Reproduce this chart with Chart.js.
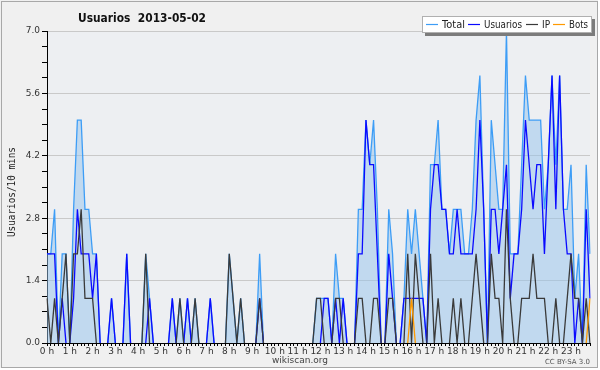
<!DOCTYPE html>
<html>
<head>
<meta charset="utf-8">
<script src="https://cdn.jsdelivr.net/npm/chart.js@4.4.0/dist/chart.umd.min.js"></script>
<style>
    html, body { margin: 0; padding: 0; background: #fff; }
    #wrap { width: 600px; height: 370px; }
</style>
</head>
<body>
<div id="wrap"><canvas id="usersChart" width="600" height="370"></canvas></div>
<script>
/**
 * Usuarios 2013-05-02 - users per 10 minutes
 */

const hourLabels = ['0 h', '1 h', '2 h', '3 h', '4 h', '5 h', '6 h', '7 h', '8 h', '9 h', '10 h', '11 h',
    '12 h', '13 h', '14 h', '15 h', '16 h', '17 h', '18 h', '19 h', '20 h', '21 h', '22 h', '23 h'];
const minuteSlots = ['00', '10', '20', '30', '40', '50'];
const yTickLabels = ['0.0', '1.4', '2.8', '4.2', '5.6', '7.0'];

// one value per 10 minutes, 6 per hour
const total = [
    2, 2, 3, 0, 2, 2,   0, 3, 5, 5, 3, 3,   2, 2, 0, 0, 0, 1,   0, 0, 0, 2, 0, 0,
    0, 0, 2, 1, 0, 0,   0, 0, 0, 1, 0, 1,   0, 1, 0, 1, 0, 0,   0, 1, 0, 0, 0, 0,
    2, 1, 0, 1, 0, 0,   0, 0, 2, 0, 0, 0,   0, 0, 0, 0, 0, 0,   0, 0, 0, 0, 0, 1,
    1, 1, 1, 0, 2, 1,   1, 0, 0, 0, 3, 3,   5, 4, 5, 3, 0, 0,   3, 2, 0, 0, 1, 3,
    2, 3, 2, 1, 0, 4,   4, 5, 3, 3, 2, 3,   3, 3, 2, 2, 3, 5,   6, 3, 0, 5, 4, 3,
    3, 7, 2, 2, 2, 4,   6, 5, 5, 5, 5, 3,   4, 6, 4, 6, 3, 3,   4, 1, 2, 0, 4, 2
];
const usuarios = [
    2, 2, 2, 0, 1, 0,   0, 1, 3, 2, 2, 2,   1, 2, 0, 0, 0, 1,   0, 0, 0, 2, 0, 0,
    0, 0, 0, 1, 0, 0,   0, 0, 0, 1, 0, 0,   0, 1, 0, 0, 0, 0,   0, 1, 0, 0, 0, 0,
    0, 0, 0, 0, 0, 0,   0, 0, 1, 0, 0, 0,   0, 0, 0, 0, 0, 0,   0, 0, 0, 0, 0, 0,
    0, 1, 1, 0, 1, 0,   1, 0, 0, 0, 2, 2,   5, 4, 4, 2, 0, 0,   2, 1, 0, 0, 1, 1,
    1, 1, 1, 1, 0, 3,   4, 4, 3, 3, 2, 2,   3, 2, 2, 2, 2, 3,   5, 3, 0, 3, 3, 2,
    3, 4, 1, 2, 2, 3,   5, 4, 3, 4, 4, 2,   4, 6, 3, 6, 3, 2,   2, 0, 1, 0, 3, 1
];
const ip = [
    1, 0, 1, 0, 1, 2,   0, 2, 2, 3, 1, 1,   1, 0, 0, 0, 0, 0,   0, 0, 0, 0, 0, 0,
    0, 0, 2, 0, 0, 0,   0, 0, 0, 0, 0, 1,   0, 0, 0, 1, 0, 0,   0, 0, 0, 0, 0, 0,
    2, 1, 0, 1, 0, 0,   0, 0, 1, 0, 0, 0,   0, 0, 0, 0, 0, 0,   0, 0, 0, 0, 0, 1,
    1, 0, 0, 0, 1, 1,   0, 0, 0, 0, 1, 1,   0, 0, 1, 1, 0, 0,   1, 1, 0, 0, 0, 2,
    0, 2, 1, 0, 0, 2,   0, 1, 0, 0, 0, 1,   0, 1, 0, 0, 1, 2,   1, 0, 0, 2, 1, 1,
    0, 3, 1, 0, 0, 1,   1, 1, 2, 1, 1, 1,   0, 0, 1, 0, 0, 1,   2, 1, 1, 0, 1, 0
];
const bots = [
    0, 0, 0, 0, 0, 0,   0, 0, 0, 0, 0, 0,   0, 0, 0, 0, 0, 0,   0, 0, 0, 0, 0, 0,
    0, 0, 0, 0, 0, 0,   0, 0, 0, 0, 0, 0,   0, 0, 0, 0, 0, 0,   0, 0, 0, 0, 0, 0,
    0, 0, 0, 0, 0, 0,   0, 0, 0, 0, 0, 0,   0, 0, 0, 0, 0, 0,   0, 0, 0, 0, 0, 0,
    0, 0, 0, 0, 0, 0,   0, 0, 0, 0, 0, 0,   0, 0, 0, 0, 0, 0,   0, 0, 0, 0, 0, 0,
    1, 0, 0, 0, 0, 0,   0, 0, 0, 0, 0, 0,   0, 0, 0, 0, 0, 0,   0, 0, 0, 0, 0, 0,
    0, 0, 0, 0, 0, 0,   0, 0, 0, 0, 0, 0,   0, 0, 0, 0, 0, 0,   0, 0, 0, 0, 0, 1
];

const slotLabels = [];
hourLabels.forEach((h, hi) => minuteSlots.forEach(m => slotLabels.push(hi + ':' + m)));

const colors = { total: '#3d9df6', usuarios: '#0a0aff', ip: '#3a3a3a', bots: '#ff9a00' };

// hide segments lying flat on zero so the black axis stays visible
function zeroSegment(color) {
    return function(ctx) {
        return (ctx.p0.parsed.y === 0 && ctx.p1.parsed.y === 0) ? 'rgba(0,0,0,0)' : color;
    };
}

function lineSet(label, data, color, order, fill) {
    return {
        label: label,
        data: data,
        borderColor: color,
        backgroundColor: fill ? 'rgba(150, 196, 236, 0.5)' : color,
        fill: fill ? 'origin' : false,
        borderWidth: 1.3,
        pointRadius: 0,
        tension: 0,
        order: order,
        segment: { borderColor: zeroSegment(color) }
    };
}

const framePlugin = {
    id: 'frame',
    beforeDraw(chart) {
        const c = chart.ctx;
        const a = chart.chartArea;
        c.save();
        c.fillStyle = '#f0f0f0';
        c.fillRect(0, 0, 598, 368);
        c.strokeStyle = '#a8a8a8';
        c.lineWidth = 1;
        c.strokeRect(1.5, 1.5, 596, 366);
        c.fillStyle = '#edeff2';
        c.fillRect(a.left, a.top, a.right - a.left, a.bottom - a.top);
        c.restore();
    },
    afterDraw(chart) {
        const c = chart.ctx;
        c.save();
        // title
        c.fillStyle = '#111';
        c.font = 'bold 13px "DejaVu Sans"';
        c.textBaseline = 'alphabetic';
        c.textAlign = 'left';
        c.fillText('Usuarios  2013-05-02', 78, 22, 128);

        // y axis title
        c.save();
        c.translate(12, 192);
        c.rotate(-Math.PI / 2);
        c.font = '10px "DejaVu Sans Mono"';
        c.textAlign = 'center';
        c.textBaseline = 'middle';
        c.fillStyle = '#222';
        c.fillText('Usuarios/10 mins', 0, 0, 90);
        c.restore();

        // credits
        c.font = '9px "DejaVu Sans"';
        c.fillStyle = '#444';
        c.textAlign = 'center';
        c.textBaseline = 'middle';
        c.fillText('wikiscan.org', 300, 361);
        c.font = '7px "DejaVu Sans"';
        c.textAlign = 'right';
        c.fillStyle = '#555';
        c.fillText('CC BY-SA 3.0', 590, 362);

        // legend box
        c.fillStyle = '#7c7c7c';
        c.fillRect(425, 19, 170, 17);
        c.fillStyle = '#fff';
        c.fillRect(422, 16, 170, 17);
        c.strokeStyle = '#b0b0b0';
        c.strokeRect(422.5, 16.5, 169, 16);
        const items = [
            { text: 'Total', color: colors.total, x: 426, w: 23 },
            { text: 'Usuarios', color: colors.usuarios, x: 468, w: 38 },
            { text: 'IP', color: colors.ip, x: 526, w: 8 },
            { text: 'Bots', color: colors.bots, x: 553, w: 19 }
        ];
        c.font = '10px "DejaVu Sans"';
        c.textAlign = 'left';
        c.textBaseline = 'middle';
        items.forEach(it => {
            c.strokeStyle = it.color;
            c.lineWidth = 1.2;
            c.beginPath();
            c.moveTo(it.x, 24.5);
            c.lineTo(it.x + 12, 24.5);
            c.stroke();
            c.fillStyle = '#222';
            c.fillText(it.text, it.x + 16, 25, it.w);
        });
        c.restore();
    }
};

const ctx = document.getElementById('usersChart').getContext('2d');
const usersChart = new Chart(ctx, {
    type: 'line',
    data: {
        labels: slotLabels,
        datasets: [
            lineSet('Total', total, colors.total, 4, true),
            lineSet('Usuarios', usuarios, colors.usuarios, 3, false),
            lineSet('IP', ip, colors.ip, 2, false),
            lineSet('Bots', bots, colors.bots, 1, false)
        ]
    },
    options: {
        responsive: false,
        animation: false,
        devicePixelRatio: 1,
        layout: { padding: { left: 0, top: 31, right: 10, bottom: 0 } },
        plugins: {
            legend: { display: false },
            title: { display: false },
            tooltip: { enabled: false }
        },
        scales: {
            x: {
                type: 'category',
                offset: false,
                afterFit: function(scale) { scale.height = 27; },
                grid: { drawOnChartArea: false, drawTicks: true, tickLength: 3, tickColor: '#000' },
                border: { color: '#000', width: 1 },
                ticks: {
                    autoSkip: false,
                    maxRotation: 0,
                    minRotation: 0,
                    padding: 0,
                    color: '#333',
                    font: { family: 'DejaVu Sans', size: 9 },
                    callback: function(value, index) {
                        return index % 6 === 0 ? hourLabels[index / 6] : '';
                    }
                }
            },
            y: {
                min: 0,
                max: 7,
                afterFit: function(scale) { scale.width = 47; },
                afterBuildTicks: function(scale) {
                    const t = [];
                    for (let k = 0; k <= 20; k++) t.push({ value: k * 0.35 });
                    scale.ticks = t;
                },
                grid: {
                    color: function(c) { return c.index % 4 === 0 ? '#c9c9c9' : 'rgba(0,0,0,0)'; },
                    tickColor: '#000',
                    tickLength: 5,
                    drawTicks: true
                },
                border: { color: '#000', width: 1 },
                ticks: {
                    padding: 2,
                    color: '#333',
                    font: { family: 'DejaVu Sans', size: 9 },
                    callback: function(value, index) {
                        return index % 4 === 0 ? yTickLabels[index / 4] : '';
                    }
                }
            }
        }
    },
    plugins: [framePlugin]
});
</script>
</body>
</html>
